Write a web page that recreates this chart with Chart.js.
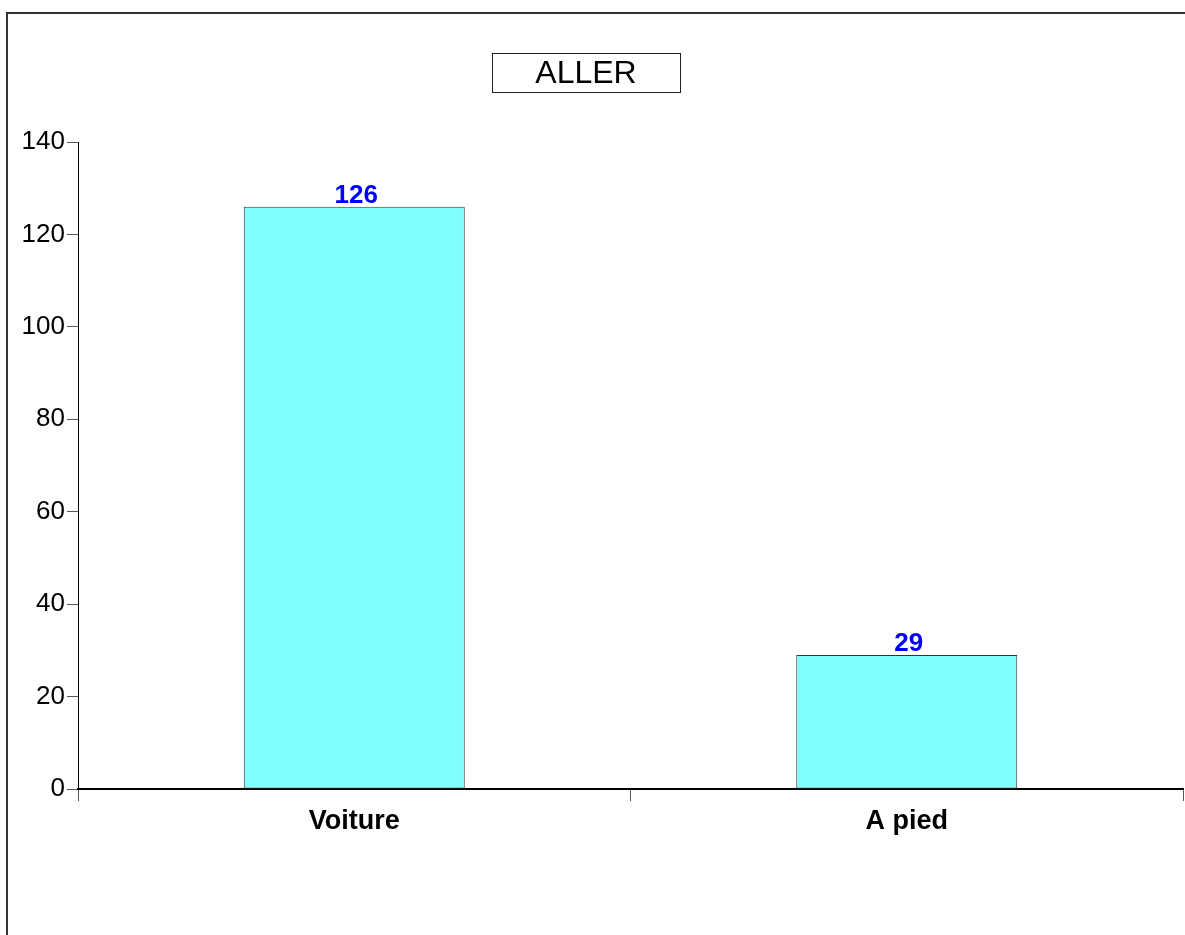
<!DOCTYPE html>
<html>
<head>
<meta charset="utf-8">
<script src="https://cdn.jsdelivr.net/npm/chart.js@4.4.1/dist/chart.umd.min.js"></script>
<style>
  html, body { margin: 0; padding: 0; background: #fff; }
  #wrap { width: 1185px; height: 935px; }
</style>
</head>
<body>
<div id="wrap"><canvas id="allerChart" width="1185" height="935"></canvas></div>
<script>
const categories = ['Voiture', 'A pied'];
const counts = [126, 29];
const yTicks = [0, 20, 40, 60, 80, 100, 120, 140];
const chartTitle = 'ALLER';

// frame, title box and value labels
const decorPlugin = {
    id: 'decor',
    beforeDraw(chart) {
        const c = chart.ctx;
        c.save();
        c.strokeStyle = '#333';
        c.lineWidth = 2;
        c.beginPath();
        c.moveTo(7, 935);
        c.lineTo(7, 13);
        c.lineTo(1185, 13);
        c.stroke();
        c.restore();
    },
    afterDraw(chart) {
        const c = chart.ctx;
        c.save();
        // title box
        c.strokeStyle = '#222';
        c.lineWidth = 1;
        c.strokeRect(492.5, 53.5, 188, 39);
        c.fillStyle = '#000';
        c.font = '32px "Liberation Sans", Arial, sans-serif';
        c.textAlign = 'center';
        c.textBaseline = 'middle';
        c.fillText(chartTitle, 586, 74);
        // values above bars
        const meta = chart.getDatasetMeta(0);
        c.fillStyle = '#0000FF';
        c.font = 'bold 26px "Liberation Sans", Arial, sans-serif';
        c.textBaseline = 'alphabetic';
        meta.data.forEach((bar, i) => {
            c.fillText(String(counts[i]), bar.x + 2, bar.y - 4);
        });
        c.restore();
    }
};

const ctx = document.getElementById('allerChart').getContext('2d');
new Chart(ctx, {
    type: 'bar',
    data: {
        labels: categories,
        datasets: [{
            data: counts,
            backgroundColor: '#80FFFF',
            borderColor: '#333',
            borderWidth: 1,
            borderSkipped: false,
            categoryPercentage: 0.4,
            barPercentage: 1.0
        }]
    },
    options: {
        responsive: false,
        animation: false,
        events: [],
        layout: { padding: { top: 142, right: 2, left: 0, bottom: 0 } },
        plugins: {
            legend: { display: false },
            tooltip: { enabled: false },
            title: { display: false }
        },
        scales: {
            x: {
                offset: true,
                afterFit(scale) { scale.height = 146; },
                border: { color: '#000', width: 2 },
                grid: { offset: true, drawOnChartArea: false, drawTicks: true, tickLength: 12, color: '#555', lineWidth: 1 },
                ticks: {
                    color: '#000',
                    padding: 4,
                    font: { family: '"Liberation Sans", Arial, sans-serif', size: 27, weight: 'bold' }
                }
            },
            y: {
                min: 0,
                max: 140,
                afterFit(scale) { scale.width = 78; },
                afterBuildTicks(scale) { scale.ticks = yTicks.map(v => ({ value: v })); },
                border: { color: '#000', width: 1 },
                grid: { drawOnChartArea: false, drawTicks: true, tickLength: 11, color: '#555' },
                ticks: {
                    color: '#000',
                    padding: 2,
                    font: { family: '"Liberation Sans", Arial, sans-serif', size: 26 }
                }
            }
        }
    },
    plugins: [decorPlugin]
});
</script>
</body>
</html>
